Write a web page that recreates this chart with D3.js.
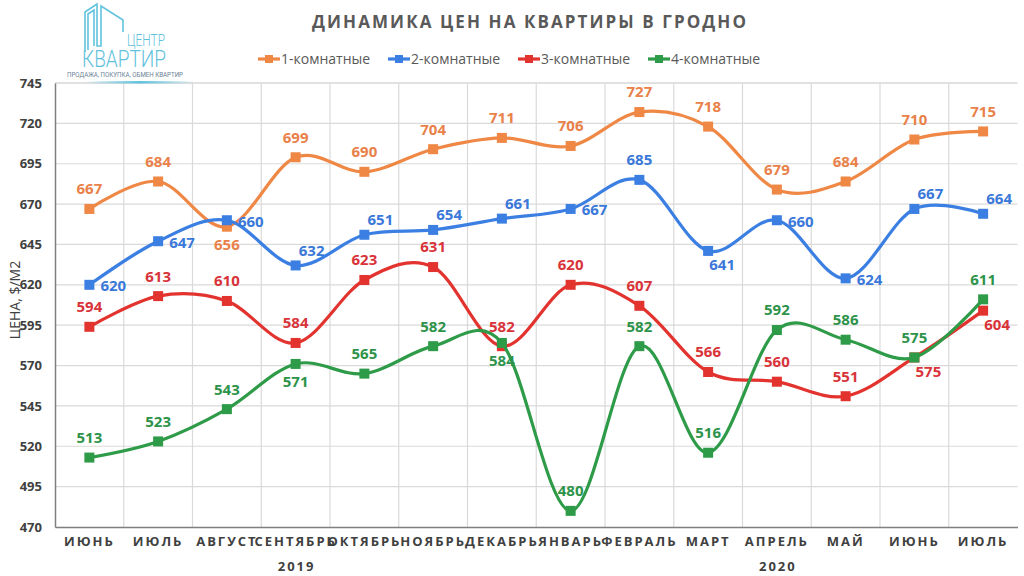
<!DOCTYPE html>
<html>
<head>
<meta charset="utf-8">
<script src="https://cdn.jsdelivr.net/npm/d3@7"></script>
<style>
body { margin: 0; background: #fff; }
svg { display: block; font-family: "Open Sans", "Noto Sans", sans-serif; }
</style>
</head>
<body>
<div id="chart"></div>
<script>
// months of the chart, Jun 2019 .. Jul 2020
var months = ["ИЮНЬ","ИЮЛЬ","АВГУСТ","СЕНТЯБРЬ","ОКТЯБРЬ","НОЯБРЬ","ДЕКАБРЬ",
              "ЯНВАРЬ","ФЕВРАЛЬ","МАРТ","АПРЕЛЬ","МАЙ","ИЮНЬ","ИЮЛЬ"];
var years = ["2019","2020"];
var yearSpan = [7, 7]; // how many months under each year

var seriesNames = ["1-комнатные","2-комнатные","3-комнатные","4-комнатные"];
var rooms1 = [667,684,656,699,690,704,711,706,727,718,679,684,710,715];
var rooms2 = [620,647,660,632,651,654,661,667,685,641,660,624,667,664];
var rooms3 = [594,613,610,584,623,631,582,620,607,566,560,551,575,604];
var rooms4 = [513,523,543,571,565,582,584,480,582,516,592,586,575,611];

var yTicks = [470,495,520,545,570,595,620,645,670,695,720,745];

// where each data label sits relative to its marker
var place1 = ["t","t","b","t","t","t","t","t","t","t","t","t","t","t"];
var place2 = ["r","r","r","tr","tr","tr","tr","r","t","br","r","r","tr","tr"];
var place3 = ["t","t","t","t","t","t","t","t","t","t","t","t","br","br"];
var place4 = ["t","t","t","b","t","t","b","t","t","t","t","t","t","t"];

var colors = ["#ef8745","#3b7fe3","#e2332f","#2e9b48"];
var labelColors = ["#e9814a","#3a78d9","#d9333a","#2d934a"];

var series = [rooms1, rooms2, rooms3, rooms4];
var places = [place1, place2, place3, place4];

var W = 1024, H = 576;
var pLeft = 55, pRight = 1017.5, pTop = 83, pBottom = 527;

var svg = d3.select("#chart").append("svg").attr("width", W).attr("height", H);

var x = d3.scaleBand().domain(d3.range(months.length)).range([pLeft, pRight]);
var y = d3.scaleLinear().domain([470, 745]).range([pBottom, pTop]);

// grid
var grid = svg.append("g");
grid.selectAll("line.h").data(yTicks.slice(1)).enter().append("line")
    .attr("x1", pLeft).attr("x2", pRight)
    .attr("y1", function(d){ return y(d); }).attr("y2", function(d){ return y(d); })
    .attr("stroke", function(d){ return d == 745 ? "#c4c4c4" : "#dadada"; })
    .attr("stroke-width", 1.2);
grid.selectAll("line.v").data(d3.range(1, months.length)).enter().append("line")
    .attr("x1", function(d){ return x(d); }).attr("x2", function(d){ return x(d); })
    .attr("y1", pTop).attr("y2", pBottom)
    .attr("stroke", "#dadada").attr("stroke-width", 1.2);

// axes
var yAxis = svg.append("g").attr("transform", "translate(" + pLeft + ",0)")
    .call(d3.axisLeft(y).tickValues(yTicks).tickSize(0).tickPadding(13));
yAxis.select(".domain").attr("stroke", "#7f7f7f").attr("stroke-width", 1.5);
yAxis.selectAll("text").attr("font-size", 13).attr("font-weight", "bold")
    .attr("fill", "#404040").attr("font-family", "Open Sans");

var xAxis = svg.append("g").attr("transform", "translate(0," + pBottom + ")")
    .call(d3.axisBottom(x).tickFormat(function(i){ return months[i]; }).tickSize(0).tickPadding(10));
xAxis.select(".domain").attr("stroke", "#7f7f7f").attr("stroke-width", 1.5);
xAxis.selectAll("text").attr("font-size", 13).attr("font-weight", "bold")
    .attr("fill", "#404040").attr("font-family", "Open Sans")
    .style("letter-spacing", "2px");

// years
var start = 0;
years.forEach(function(yr, k){
    var x0 = x(start), x1 = x(start + yearSpan[k] - 1) + x.bandwidth();
    svg.append("text").attr("x", (x0 + x1) / 2 + 1).attr("y", 571)
        .attr("text-anchor", "middle").attr("font-size", 13).attr("font-weight", "bold")
        .attr("fill", "#404040").style("letter-spacing", "2px").text(yr);
    start += yearSpan[k];
});

// y axis title
svg.append("text").attr("transform", "translate(20,300) rotate(-90)")
    .attr("text-anchor", "middle").attr("font-size", 14).attr("fill", "#404040")
    .text("ЦЕНА, $/М2");

// title, stretched to the width it has in the picture
var title = svg.append("text").attr("x", 530).attr("y", 28).attr("text-anchor", "middle")
    .attr("font-size", 17).attr("font-weight", "bold").attr("fill", "#595959")
    .text("ДИНАМИКА ЦЕН НА КВАРТИРЫ В ГРОДНО");
var tl = title.node().getComputedTextLength();
var n = title.text().length;
title.style("letter-spacing", ((434 - tl) / (n - 1)) + "px");

// lines
var line = d3.line()
    .x(function(d, i){ return x(i) + x.bandwidth() / 2; })
    .y(function(d){ return y(d); })
    .curve(d3.curveCardinal.tension(0));

var ms = 10;
series.forEach(function(vals, s){
    svg.append("path").attr("d", line(vals)).attr("fill", "none")
        .attr("stroke", colors[s]).attr("stroke-width", 3.2);
    svg.append("g").selectAll("rect").data(vals).enter().append("rect")
        .attr("x", function(d, i){ return x(i) + x.bandwidth() / 2 - ms / 2; })
        .attr("y", function(d){ return y(d) - ms / 2; })
        .attr("width", ms).attr("height", ms)
        .attr("fill", colors[s]);
});

// data labels
var offs = {
    t:  {dx: 0,  dy: -20, anchor: "middle"},
    b:  {dx: 0,  dy: 18,  anchor: "middle"},
    r:  {dx: 11, dy: 1,   anchor: "start"},
    tr: {dx: 16, dy: -15, anchor: "middle"},
    br: {dx: 14, dy: 14,  anchor: "middle"}
};
series.forEach(function(vals, s){
    svg.append("g").selectAll("text").data(vals).enter().append("text")
        .attr("x", function(d, i){ return x(i) + x.bandwidth() / 2 + offs[places[s][i]].dx; })
        .attr("y", function(d, i){ return y(d) + offs[places[s][i]].dy; })
        .attr("dy", "0.36em")
        .attr("text-anchor", function(d, i){ return offs[places[s][i]].anchor; })
        .attr("font-size", 15).attr("font-weight", "bold")
        .attr("fill", labelColors[s])
        .text(function(d){ return d; });
});

// legend
var legend = svg.append("g");
seriesNames.forEach(function(name, s){
    var lx = 258 + s * 130;
    var g = legend.append("g").attr("transform", "translate(" + lx + ",59)");
    g.append("line").attr("x1", 0).attr("x2", 22).attr("stroke", colors[s]).attr("stroke-width", 3.2);
    g.append("rect").attr("x", 7).attr("y", -4).attr("width", 8).attr("height", 8).attr("fill", colors[s]);
    g.append("text").attr("x", 23).attr("dy", "0.35em").attr("font-size", 14)
        .attr("fill", "#595959").text(name);
});

// logo
var logo = svg.append("g").attr("fill", "none").attr("stroke", "#62c3de").attr("stroke-width", 1.6);
logo.append("path").attr("d", "M85,52 V12 L97,4 V46 H101 V6 L123,20 V32");
logo.append("path").attr("d", "M88,50 V14 L94,10 V46");
var lt = svg.append("g").attr("fill", "#5fc1dc").attr("font-family", "Roboto");
lt.append("text").attr("x", 127).attr("y", 46).attr("font-size", 17).attr("font-weight", 300)
    .attr("textLength", 38).attr("lengthAdjust", "spacingAndGlyphs").text("ЦЕНТР");
lt.append("text").attr("x", 82).attr("y", 67).attr("font-size", 24).attr("font-weight", 300)
    .attr("textLength", 84).attr("lengthAdjust", "spacingAndGlyphs").text("КВАРТИР");
svg.append("text").attr("x", 67).attr("y", 77).attr("font-size", 6.5).attr("font-family", "Roboto")
    .attr("fill", "#6c8296").attr("textLength", 116).attr("lengthAdjust", "spacingAndGlyphs")
    .text("ПРОДАЖА, ПОКУПКА, ОБМЕН КВАРТИР");
var grad = svg.append("defs").append("linearGradient").attr("id", "lg");
grad.append("stop").attr("offset", "0").attr("stop-color", "#62c3de").attr("stop-opacity", 0);
grad.append("stop").attr("offset", "0.5").attr("stop-color", "#62c3de").attr("stop-opacity", 1);
grad.append("stop").attr("offset", "1").attr("stop-color", "#62c3de").attr("stop-opacity", 0);
svg.append("rect").attr("x", 85).attr("y", 81).attr("width", 110).attr("height", 2.5).attr("fill", "url(#lg)");
</script>
</body>
</html>
